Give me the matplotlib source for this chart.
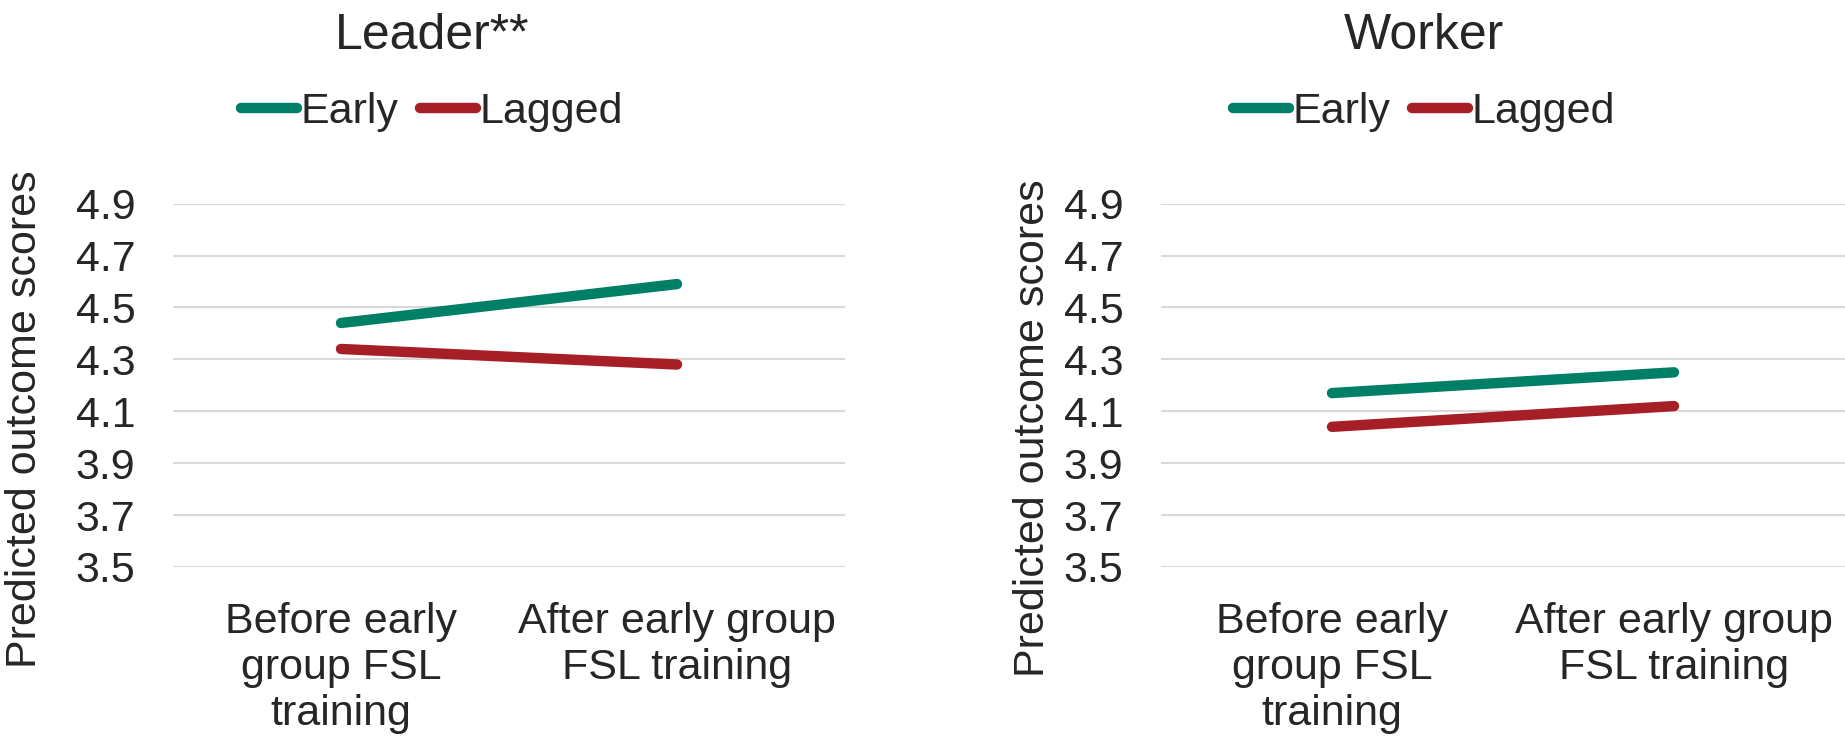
import matplotlib
matplotlib.use("Agg")
import matplotlib.pyplot as plt
from matplotlib.lines import Line2D

plt.rcParams['font.family'] = ['Liberation Sans', 'DejaVu Sans']

categories = ["Before early\ngroup FSL\ntraining", "After early group\nFSL training"]
panels = ["Leader**", "Worker"]
series_names = ["Early", "Lagged"]
leader_early = [4.44, 4.59]
leader_lagged = [4.34, 4.28]
worker_early = [4.17, 4.25]
worker_lagged = [4.04, 4.12]
yticks = [3.5, 3.7, 3.9, 4.1, 4.3, 4.5, 4.7, 4.9]
ylabel = "Predicted outcome scores"

colors = {"Early": "#007F67", "Lagged": "#A61E26"}
text_color = "#262626"
fs = 31

W, H = 1845, 738
fig = plt.figure(figsize=(W / 100, H / 100), dpi=100)

ax_specs = [
    dict(rect=[173 / W, 1 - 567 / H, 672 / W, 363.4 / H], label_x=-0.19, label_y=0.407,
         title_x=432 / W, data=(leader_early, leader_lagged)),
    dict(rect=[1161 / W, 1 - 567 / H, 684 / W, 363.4 / H], label_x=-0.158, label_y=0.382,
         title_x=1424 / W, data=(worker_early, worker_lagged)),
]

for spec, title in zip(ax_specs, panels):
    ax = fig.add_axes(spec["rect"])
    x = list(range(len(categories)))
    for name, vals in zip(series_names, spec["data"]):
        ax.plot(x, vals, color=colors[name], lw=7.5, solid_capstyle="round", zorder=3, clip_on=False)
    ax.set_xlim(-0.5, 1.5)
    ax.set_ylim(3.5, 4.9)
    ax.set_yticks(yticks)
    ax.set_yticklabels([f"{t:.1f}" for t in yticks])
    ax.set_xticks(x)
    ax.set_xticklabels(categories)
    ax.grid(axis="y", color="#D9D9D9", lw=1.5, zorder=0)
    ax.set_axisbelow(True)
    for s in ax.spines.values():
        s.set_visible(False)
    ax.tick_params(axis="y", length=0, pad=27, labelsize=fs, labelcolor=text_color)
    ax.tick_params(axis="x", length=0, pad=25, labelsize=fs, labelcolor=text_color)
    for lab in ax.get_xticklabels():
        lab.set_linespacing(1.2)
    ax.set_ylabel(ylabel, fontsize=fs, color=text_color)
    ax.yaxis.set_label_coords(spec["label_x"], spec["label_y"])

    fig.text(spec["title_x"], 1 - 36 / H, title, fontsize=36, color=text_color,
             ha="center", va="center")
    handles = [Line2D([0], [0], color=colors[n], lw=7.5, solid_capstyle="round") for n in series_names]
    fig.legend(handles, series_names, loc="center", bbox_to_anchor=(spec["title_x"], 1 - 112 / H),
               ncol=2, frameon=False, fontsize=fs, handlelength=1.3, handletextpad=0.08,
               columnspacing=0.5, labelcolor=text_color, borderaxespad=0, borderpad=0)

fig.savefig("out.png", dpi=100)
